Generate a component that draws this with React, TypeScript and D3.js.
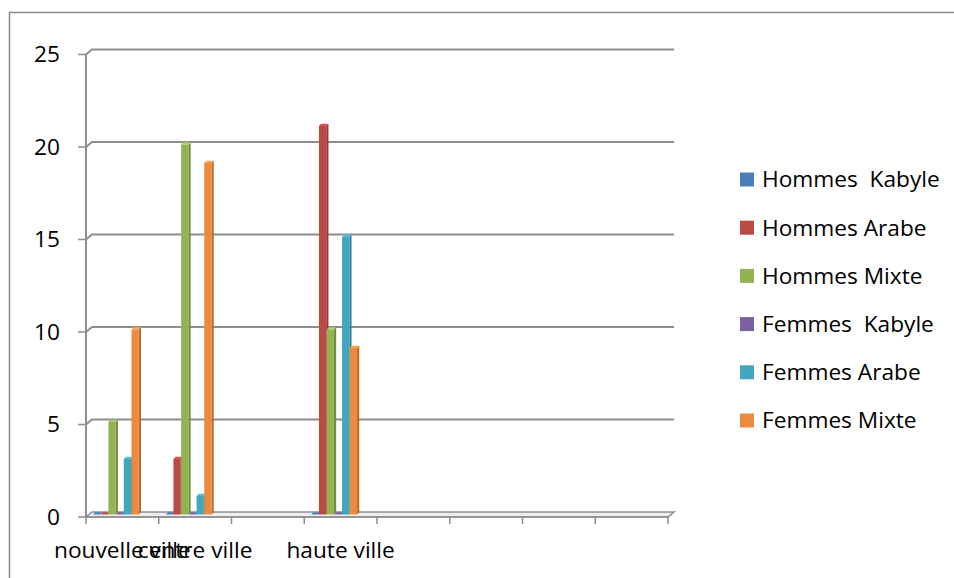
import React from "react";
import * as d3 from "d3";

const categories = ["nouvelle ville", "centre ville", "", "haute ville", "", "", "", ""];
const seriesNames = ["Hommes  Kabyle", "Hommes Arabe", "Hommes Mixte", "Femmes  Kabyle", "Femmes Arabe", "Femmes Mixte"];
const hommesKabyle = [0, 0, null, 0];
const hommesArabe = [0, 3, null, 21];
const hommesMixte = [5, 20, null, 10];
const femmesKabyle = [0, 0, null, 0];
const femmesArabe = [3, 1, null, 15];
const femmesMixte = [10, 19, null, 9];
const yTicks = [0, 5, 10, 15, 20, 25];
const colors = ["#4a7ebb", "#bb4a47", "#93b352", "#7d60a0", "#44a5bf", "#ec8a40"];

const seriesValues: (number | null)[][] = [hommesKabyle, hommesArabe, hommesMixte, femmesKabyle, femmesArabe, femmesMixte];

const W = 954;
const H = 578;
const FONT = "'Open Sans', 'Liberation Sans', sans-serif";
const FS = 21;
const SX = 1.08;

// 3D offsets
const DX = 6;
const DY = -5;
const BX = 3;
const BY = -2.5;
const SIDE = 2.2;

function T({ x, y, anchor, children }: { x: number; y: number; anchor: string; children: any }) {
  return (
    <text
      transform={`translate(${x},${y}) scale(${SX},1)`}
      textAnchor={anchor}
      fontFamily={FONT}
      fontSize={FS}
      fill="#000"
      style={{ whiteSpace: "pre" }}
    >
      {children}
    </text>
  );
}

export default function App() {
  const x = d3.scaleBand<number>().domain(d3.range(categories.length)).range([86, 668]).padding(0);
  const y = d3.scaleLinear().domain([0, 25]).range([517, 54.5]);
  const xs = d3.scaleBand<number>().domain(d3.range(seriesNames.length)).range([0, 46.2]).padding(0);
  const bw = xs.bandwidth();
  const faceW = bw - 0.4;

  const x0 = x.range()[0];
  const x1 = x.range()[1];
  const y0 = y(0);

  const grid = "#8e8e8e";

  const bars: any[] = [];
  for (let c = 0; c < categories.length; c++) {
    seriesValues.forEach((vals, s) => {
      const v = vals[c];
      if (v === null || v === undefined) return;
      const bx = (x(c) as number) + 4 + BX + (xs(s) as number);
      const base = y0 + BY;
      const top = y(v) + BY;
      const col = colors[s];
      const dark = d3.color(col)!.darker(0.7).toString();
      const light = d3.color(col)!.brighter(0.4).toString();
      bars.push(
        <g key={`b-${c}-${s}`}>
          <polygon
            points={`${bx + faceW},${base} ${bx + faceW + SIDE},${base - SIDE} ${bx + faceW + SIDE},${top - SIDE} ${bx + faceW},${top}`}
            fill={dark}
          />
          {v > 0 && <rect x={bx} y={top} width={faceW} height={base - top} fill={col} />}
          <polygon
            points={`${bx},${top} ${bx + SIDE},${top - SIDE} ${bx + faceW + SIDE},${top - SIDE} ${bx + faceW},${top}`}
            fill={v > 0 ? light : col}
          />
        </g>
      );
    });
  }

  return (
    <svg
      width={W}
      height={H}
      style={{ position: "absolute", left: 0, top: 0, display: "block", background: "#fff" }}
    >
      <rect x={9.5} y={12.5} width={1200} height={1000} fill="none" stroke="#8a8a8a" strokeWidth={1.5} />

      {/* floor */}
      <polygon
        points={`${x0},${y0} ${x0 + DX},${y0 + DY} ${x1 + DX},${y0 + DY} ${x1},${y0}`}
        fill="#eeeeee"
        stroke={grid}
        strokeWidth={1.5}
      />

      {/* gridlines on back wall */}
      {yTicks.filter((t) => t > 0).map((t) => (
        <polyline
          key={`g-${t}`}
          points={`${x0},${y(t)} ${x0 + DX},${y(t) + DY} ${x1 + DX},${y(t) + DY}`}
          fill="none"
          stroke={grid}
          strokeWidth={2}
        />
      ))}

      {/* left wall edge */}
      <line x1={x0} y1={y(25)} x2={x0} y2={y0} stroke={grid} strokeWidth={2} />

      {/* y ticks & labels */}
      {yTicks.map((t) => (
        <g key={`yt-${t}`}>
          <line x1={x0 - 8} x2={x0} y1={y(t)} y2={y(t)} stroke={grid} strokeWidth={1.5} />
          <T x={60} y={y(t) + 7.5} anchor="end">{String(t)}</T>
        </g>
      ))}

      {bars}

      {/* x axis front edge */}
      <line x1={x0} x2={x1} y1={y0} y2={y0} stroke={grid} strokeWidth={1.5} />
      {d3.range(categories.length + 1).map((i) => {
        const xx = i < categories.length ? (x(i) as number) : x1;
        return <line key={`xt-${i}`} x1={xx} x2={xx} y1={y0} y2={y0 + 7} stroke={grid} strokeWidth={1.5} />;
      })}
      {categories.map((c, i) =>
        c ? (
          <T key={`xl-${i}`} x={(x(i) as number) + x.bandwidth() / 2} y={558} anchor="middle">
            {c}
          </T>
        ) : null
      )}

      {/* legend */}
      {seriesNames.map((n, i) => {
        const cy = 179.5 + i * 48.2;
        return (
          <g key={`lg-${i}`}>
            <rect x={740} y={cy - 7} width={14} height={14} fill={colors[i]} />
            <T x={762} y={cy + 7.8} anchor="start">
              {n}
            </T>
          </g>
        );
      })}
    </svg>
  );
}
